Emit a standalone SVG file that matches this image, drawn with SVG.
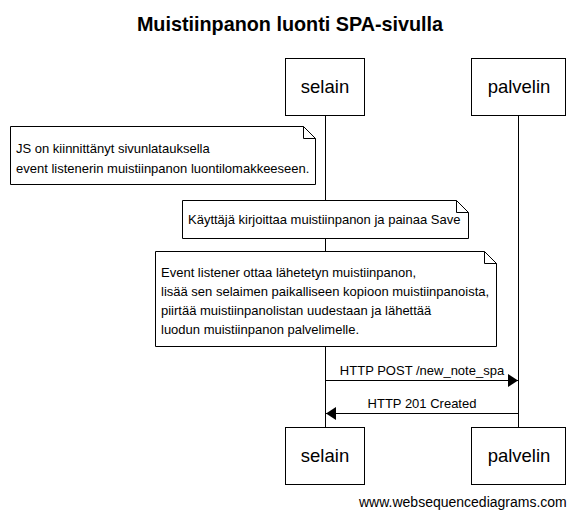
<svg xmlns="http://www.w3.org/2000/svg" width="580" height="519" viewBox="0 0 580 519">
<style>
text{font-family:"Liberation Sans",Arial,sans-serif;fill:#000}
.box{fill:#fff;stroke:#000;stroke-width:1}
.life{stroke:#000;stroke-width:1}
.actor{font-size:18.5px;text-anchor:middle}
.note{font-size:13px}
.msg{font-size:13px;text-anchor:middle}
.arrow{stroke:#000;stroke-width:1;fill:none}
</style>
<defs>
<marker id="ah" markerWidth="11" markerHeight="14" refX="10" refY="7" orient="auto" markerUnits="userSpaceOnUse">
<path d="M0,0.5 L10,7 L0,13.5 Z" fill="#000"/>
</marker>
</defs>
<rect width="580" height="519" fill="#fff"/>
<text x="290" y="31" font-size="19.8" font-weight="bold" text-anchor="middle">Muistiinpanon luonti SPA-sivulla</text>
<g id="lifelines">
<line class="life" x1="325.5" y1="115" x2="325.5" y2="427"/>
<line class="life" x1="518.5" y1="115" x2="518.5" y2="427"/>
</g>
<g id="selain-top"><rect class="box" x="285.5" y="58.5" width="79" height="57"/><text class="actor" x="325" y="93">selain</text></g>
<g id="palvelin-top"><rect class="box" x="471.5" y="58.5" width="94" height="57"/><text class="actor" x="519" y="93">palvelin</text></g>
<g id="selain-bottom"><rect class="box" x="285.5" y="427.5" width="79" height="57"/><text class="actor" x="325" y="462">selain</text></g>
<g id="palvelin-bottom"><rect class="box" x="471.5" y="427.5" width="94" height="57"/><text class="actor" x="519" y="462">palvelin</text></g>
<g id="note1">
<path class="box" d="M10.5,126.5 H303.5 L315.5,138.5 V184.5 H10.5 Z"/>
<path class="arrow" d="M303.5,126.5 V138.5 H315.5"/>
<text class="note" x="16" y="153">JS on kiinnittänyt sivunlatauksella</text>
<text class="note" x="16" y="173">event listenerin muistiinpanon luontilomakkeeseen.</text>
</g>
<g id="note2">
<path class="box" d="M182.5,200.5 H456.5 L468.5,212.5 V238.5 H182.5 Z"/>
<path class="arrow" d="M456.5,200.5 V212.5 H468.5"/>
<text class="note" x="188" y="224">Käyttäjä kirjoittaa muistiinpanon ja painaa Save</text>
</g>
<g id="note3">
<path class="box" d="M155.5,251.5 H484.5 L496.5,263.5 V346.5 H155.5 Z"/>
<path class="arrow" d="M484.5,251.5 V263.5 H496.5"/>
<text class="note" x="161" y="277">Event listener ottaa lähetetyn muistiinpanon,</text>
<text class="note" x="161" y="296">lisää sen selaimen paikalliseen kopioon muistiinpanoista,</text>
<text class="note" x="161" y="315">piirtää muistiinpanolistan uudestaan ja lähettää</text>
<text class="note" x="161" y="334">luodun muistiinpanon palvelimelle.</text>
</g>
<g id="connectors">
<line class="arrow" x1="325.5" y1="380.5" x2="518" y2="380.5" marker-end="url(#ah)"/>
<text class="msg" x="422" y="375">HTTP POST /new_note_spa</text>
<line class="arrow" x1="518.5" y1="413.5" x2="326" y2="413.5" marker-end="url(#ah)"/>
<text class="msg" x="422" y="408">HTTP 201 Created</text>
</g>
<text x="359" y="507" font-size="14">www.websequencediagrams.com</text>
</svg>
